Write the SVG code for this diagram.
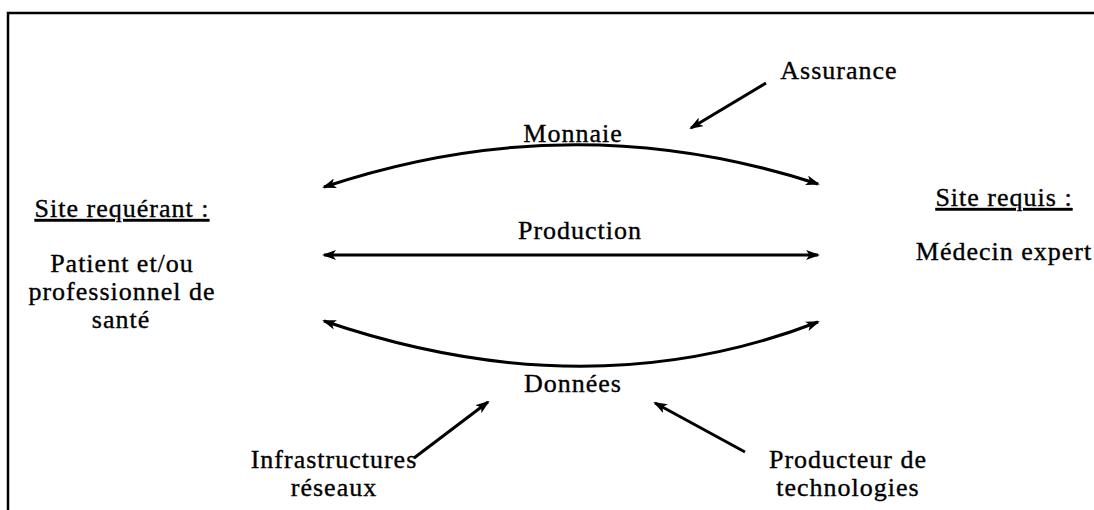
<svg xmlns="http://www.w3.org/2000/svg" width="1094" height="510" viewBox="0 0 1094 510">
<style>
text{font-family:"Liberation Serif","Times New Roman",serif;font-size:26px;fill:#000;stroke:#000;stroke-width:0.35;letter-spacing:1px}
.c{text-anchor:middle}
.u{text-decoration:underline}
.conn{fill:none;stroke:#000;stroke-width:3}
</style>
<defs>
<marker id="ah" viewBox="0 0 14 10" refX="12" refY="5" markerWidth="14" markerHeight="10" markerUnits="userSpaceOnUse" orient="auto-start-reverse">
<path d="M0,0 L14,5 L0,10 L3.5,5 z" fill="#000"/>
</marker>
</defs>
<rect width="1094" height="510" fill="#fff"/>
<path d="M8,512 V13 H1096" fill="none" stroke="#000" stroke-width="2.5"/>
<g id="connectors">
<path class="conn" d="M324,187 Q572,104 818,184" marker-start="url(#ah)" marker-end="url(#ah)"/>
<path class="conn" d="M324,255 H818" marker-start="url(#ah)" marker-end="url(#ah)"/>
<path class="conn" d="M324,321 Q588,411 818,322" marker-start="url(#ah)" marker-end="url(#ah)"/>
<path class="conn" d="M766,83 L691,128" marker-end="url(#ah)"/>
<path class="conn" d="M414,458 L488,402" marker-end="url(#ah)"/>
<path class="conn" d="M745,452 L655,403" marker-end="url(#ah)"/>
</g>
<g id="assurance"><text class="c" x="839" y="79">Assurance</text></g>
<g id="monnaie"><text class="c" x="573" y="142">Monnaie</text></g>
<g id="production"><text class="c" x="580" y="239">Production</text></g>
<g id="donnees"><text class="c" x="573" y="392">Données</text></g>
<g id="site-requerant">
<text class="c u" x="122" y="217">Site requérant :</text>
<text class="c" x="122" y="272">Patient et/ou</text>
<text class="c" x="122" y="300">professionnel de</text>
<text class="c" x="121" y="328">santé</text>
</g>
<g id="site-requis">
<text class="c u" x="1004" y="206">Site requis :</text>
<text class="c" x="1004" y="260">Médecin expert</text>
</g>
<g id="infrastructures">
<text class="c" x="334" y="468">Infrastructures</text>
<text class="c" x="334" y="496">réseaux</text>
</g>
<g id="producteur">
<text class="c" x="848" y="468">Producteur de</text>
<text class="c" x="848" y="496">technologies</text>
</g>
</svg>
